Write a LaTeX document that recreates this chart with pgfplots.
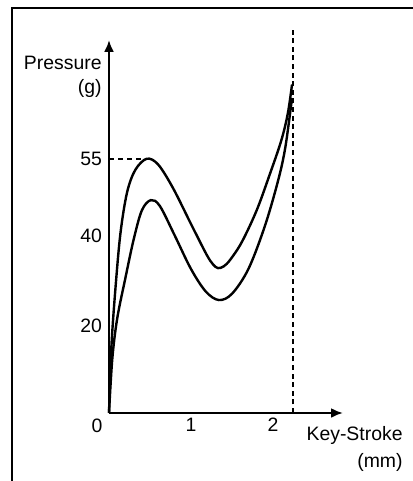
\documentclass[border=0pt]{standalone}
\usepackage{fontspec}
\setmainfont{Liberation Sans}
\usepackage{pgfplots}
\pgfplotsset{compat=1.18}
\usetikzlibrary{arrows.meta}
\begin{document}
\begin{tikzpicture}
\useasboundingbox (0,0) rectangle (206pt,240.5pt);
\draw[line width=1.1pt] (6pt,-5pt) -- (6pt,236.5pt) -- (215pt,236.5pt);
\begin{axis}[
  at={(54.5pt,34pt)}, anchor=origin,
  x=41pt, y=2.25pt,
  xmin=0, xmax=2.854, ymin=0, ymax=82.9,
  axis lines=left,
  axis line style={line width=1.4pt, -{Latex[length=6pt,width=5pt]}},
  clip=false,
  xtick={1,2}, xticklabels={1,2},
  ytick={19.33,39.33,56.4}, yticklabels={20,40,55},
  extra x ticks={0}, extra x tick labels={0},
  extra x tick style={xticklabel style={xshift=-6pt,yshift=-0.5pt}},
  major tick length=0pt,
  tick label style={font=\fontsize{9.7}{11}\selectfont},
  /pgf/number format/assume math mode=true,
  xticklabel style={yshift=1pt},
  xlabel={Key-Stroke\\(mm)},
  xlabel style={at={(axis description cs:1.256,-0.034)}, anchor=north east, align=right, inner sep=0pt, font=\fontsize{9.7}{13.5}\selectfont},
  ylabel={Pressure\\(g)},
  ylabel style={rotate=-90, at={(axis description cs:-0.0299,0.957)}, anchor=north east, align=right, inner sep=0pt, font=\fontsize{9.7}{12}\selectfont},
]
% upper curve
\addplot[black, line width=1.2pt, smooth, tension=0.55] coordinates {
(0,0) (0.03,15) (0.08,28) (0.14,40) (0.22,49) (0.32,54) (0.46,56.5)
(0.6,55.2) (0.78,50) (1.0,42) (1.19,35.2) (1.27,33.0) (1.33,32.2)
(1.40,32.6) (1.48,34.1) (1.62,38) (1.8,45) (1.96,53) (2.1,60.5)
(2.18,66.5) (2.232,73)
};
% lower curve
\addplot[black, line width=1.2pt, smooth, tension=0.55] coordinates {
(0,0) (0.04,12) (0.1,21) (0.2,30) (0.3,38.5) (0.4,45) (0.51,47.3)
(0.62,46) (0.8,39.5) (1.0,32) (1.18,27) (1.34,25.1) (1.5,26.5) (1.7,32)
(1.9,41.5) (2.06,51.5) (2.15,59) (2.232,70)
};
% dashed guides
\addplot[black, line width=1.1pt, dash pattern=on 2.5pt off 2pt] coordinates {(0,56.4) (0.45,56.4)};
\addplot[black, line width=1.1pt, dash pattern=on 2.5pt off 1.8pt] coordinates {(2.244,0) (2.244,85.1)};
\end{axis}
\end{tikzpicture}
\end{document}
